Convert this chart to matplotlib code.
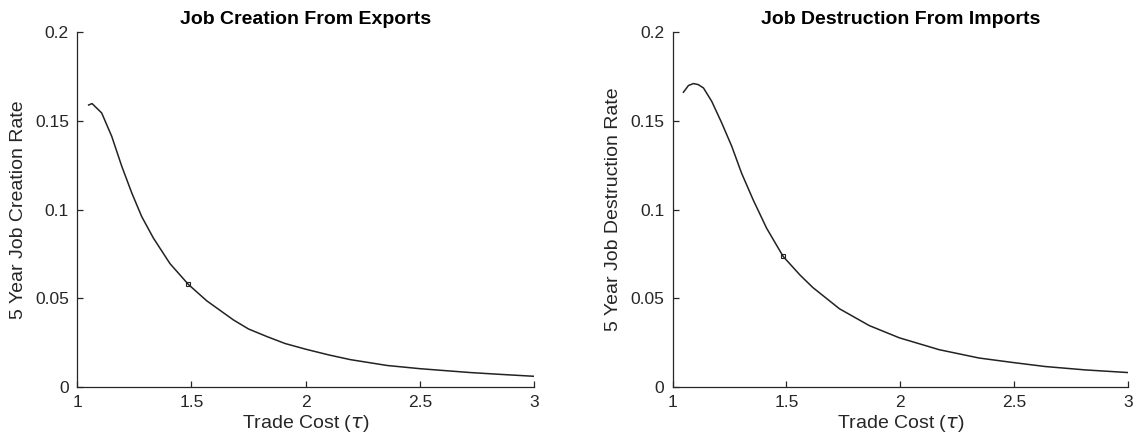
import numpy as np
import matplotlib
matplotlib.use("Agg")
import matplotlib.pyplot as plt
from matplotlib.ticker import FuncFormatter

# values
tau_exp = [1.05, 1.065, 1.107, 1.151, 1.195, 1.239, 1.282, 1.333, 1.406,
           1.487, 1.567, 1.684, 1.75, 1.831, 1.91, 2.0, 2.1, 2.196,
           2.357, 2.5, 2.6, 2.722, 2.85, 3.0]
jc_exp = [0.1590, 0.1598, 0.1545, 0.1413, 0.1244, 0.1093, 0.0961, 0.0840,
          0.0695, 0.0577, 0.0485, 0.0377, 0.0326, 0.0283, 0.0244, 0.0212,
          0.0180, 0.0153, 0.0120, 0.0102, 0.0092, 0.0080, 0.0070, 0.0059]
tau_imp = [1.048, 1.07, 1.092, 1.113, 1.136, 1.172, 1.216, 1.260, 1.303,
           1.354, 1.413, 1.486, 1.560, 1.616, 1.733, 1.864, 1.996, 2.171,
           2.346, 2.499, 2.637, 2.812, 3.0]
jd_imp = [0.1662, 0.1700, 0.1711, 0.1705, 0.1686, 0.1611, 0.1489, 0.1357,
          0.1206, 0.1055, 0.0895, 0.0735, 0.0630, 0.0560, 0.0440, 0.0345,
          0.0276, 0.0209, 0.0162, 0.0136, 0.0114, 0.0095, 0.0080]
tau_base = [1.487, 1.486]
rate_base = [0.0577, 0.0735]

titles = ["Job Creation From Exports", "Job Destruction From Imports"]
ylabels = ["5 Year Job Creation Rate", "5 Year Job Destruction Rate"]
xlabel = r"Trade Cost ($\tau$)"
xticks = [1, 1.5, 2, 2.5, 3]
yticks = [0, 0.05, 0.1, 0.15, 0.2]

plt.rcParams["font.family"] = ["Liberation Sans", "DejaVu Sans"]
plt.rcParams["mathtext.fontset"] = "dejavusans"
ink = "#262626"
line_c = "#222222"

fig = plt.figure(figsize=(11.36, 4.43), dpi=100)
boxes = [[0.068, 0.127, 0.402, 0.800], [0.592, 0.127, 0.401, 0.800]]
sets = [(tau_exp, jc_exp), (tau_imp, jd_imp)]

for i, ((xs, ys), box) in enumerate(zip(sets, boxes)):
    ax = fig.add_axes(box)
    ax.plot(xs, ys, color=line_c, linewidth=1.1)
    ax.plot(tau_base[i], rate_base[i], marker="s", markersize=3.5,
        markerfacecolor="none", markeredgecolor=line_c,
        markeredgewidth=0.8, linestyle="none"
        )
    ax.set_xlim(1, 3)
    ax.set_ylim(0, 0.2)
    ax.set_xticks(xticks)
    ax.set_yticks(yticks)
    fmt = FuncFormatter(lambda v, p: "%g" % v)
    ax.xaxis.set_major_formatter(fmt)
    ax.yaxis.set_major_formatter(fmt)
    for s in ["top", "right"]:
        ax.spines[s].set_visible(False)
    for s in ["left", "bottom"]:
        ax.spines[s].set_color(ink)
        ax.spines[s].set_linewidth(0.9)
    ax.tick_params(direction="in", length=4, width=0.9, colors=ink,
        labelsize=12.5, pad=6)
    ax.set_title(titles[i], fontsize=14, fontweight="bold", color="black",
        pad=6)
    ax.set_xlabel(xlabel, fontsize=14, color=ink, labelpad=2)
    ax.set_ylabel(ylabels[i], fontsize=14, color=ink, labelpad=6)

fig.savefig("out.png", dpi=100)
